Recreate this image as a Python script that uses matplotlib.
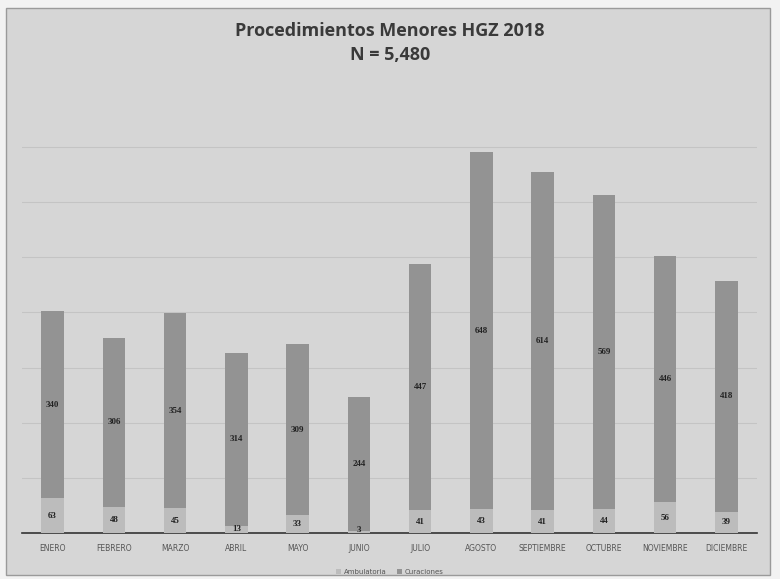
import matplotlib
matplotlib.use("Agg")
import matplotlib.pyplot as plt
import numpy as np

meses = ["ENERO", "FEBRERO", "MARZO", "ABRIL", "MAYO", "JUNIO", "JULIO",
         "AGOSTO", "SEPTIEMBRE", "OCTUBRE", "NOVIEMBRE", "DICIEMBRE"]
ambulatoria = [63, 48, 45, 13, 33, 3, 41, 43, 41, 44, 56, 39]
curaciones = [340, 306, 354, 314, 309, 244, 447, 648, 614, 569, 446, 418]
titulo = "Procedimientos Menores HGZ 2018\nN = 5,480"

bg = "#d6d6d6"
fig = plt.figure(figsize=(7.8, 5.79), dpi=100, facecolor="#f2f2f2")
# chart frame
frame = plt.Rectangle((6/780, 4/579), 764/780, 567/579, transform=fig.transFigure,
                      facecolor=bg, edgecolor="#9a9a9a", linewidth=1.0, zorder=-5)
fig.patches.append(frame)

ax = fig.add_axes([22/780, 46/579, 735/780, (533-92)/579])
ax.set_zorder(2)
ax.set_facecolor("none")
x = np.arange(len(meses))
w = 0.37
b1 = ax.bar(x, ambulatoria, width=w, color="#bcbcbc", label="Ambulatoria", zorder=3)
b2 = ax.bar(x, curaciones, width=w, bottom=ambulatoria, color="#939393",
            label="Curaciones", zorder=3)

for i in range(len(meses)):
    a = ambulatoria[i]
    ya = max(a / 2, 6)
    ax.text(x[i], ya, str(a), ha="center", va="center", fontsize=6.5,
            fontweight="bold", color="#222222", zorder=5,
            family="Liberation Serif")
    ax.text(x[i], a + curaciones[i] / 2, str(curaciones[i]), ha="center",
            va="center", fontsize=6.5, fontweight="bold", color="#222222",
            zorder=5, family="Liberation Serif")

ax.set_xlim(-0.5, len(meses) - 0.5)
ax.set_ylim(0, 800)
ax.set_yticks(np.arange(100, 800, 100))
ax.yaxis.grid(True, color="#c4c4c4", linewidth=0.8, zorder=1)
ax.set_axisbelow(True)
ax.tick_params(axis="y", left=False, labelleft=False)
ax.set_xticks(x)
ax.set_xticklabels(meses, fontsize=5.5, color="#555555")
ax.tick_params(axis="x", length=0, pad=8)
for s in ["top", "right", "left"]:
    ax.spines[s].set_visible(False)
ax.spines["bottom"].set_color("#333333")
ax.spines["bottom"].set_linewidth(1.2)

fig.text(0.5, 0.926, titulo, ha="center", va="center", fontsize=13,
         fontweight="bold", color="#3a3a3a", family="Open Sans", linespacing=1.4)

leg = fig.legend(handles=[b1, b2], labels=["Ambulatoria", "Curaciones"],
                 loc="center", bbox_to_anchor=(0.5, 0.012), ncol=2, frameon=False,
                 fontsize=5, handlelength=0.7, handleheight=0.7, columnspacing=1.5,
                 handletextpad=0.4, labelcolor="#555555")

fig.savefig("out.png", dpi=100, facecolor=fig.get_facecolor())
